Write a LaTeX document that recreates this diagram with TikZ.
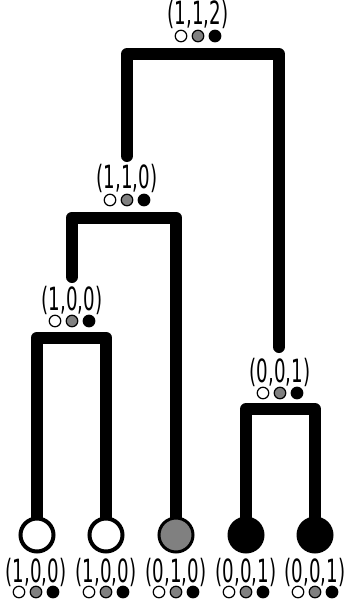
\documentclass[tikz,border=0pt]{standalone}
\usepackage{fontspec}
\newfontfamily\labelfont{DejaVu Sans}
\usetikzlibrary{backgrounds}
\definecolor{midgray}{HTML}{808080}
\newcommand\squeeze[1]{\scalebox{0.57}[1]{#1}}
\tikzset{
  edge/.style={line width=12pt, line cap=round, line join=round, draw=black},
  dot/.style={circle, draw=black, line width=1.2pt, minimum size=11.5pt, inner sep=0pt},
  count/.style={inner sep=0pt, font=\labelfont\fontsize{32}{32}\selectfont},
  leafnode/.style={circle, inner sep=0pt},
  dots/.pic={
    \node[dot, fill=white]   (-w) at (-17,0) {};
    \node[dot, fill=midgray] (-g) at (0,0) {};
    \node[dot, fill=black]   (-k) at (17,0) {};
  }
}
\begin{document}
\begin{tikzpicture}[x=1pt, y=-1pt]
  \useasboundingbox (0,0) rectangle (345,605);

  % leaves
  \node[leafnode, draw=black, line width=4pt, fill=white, minimum size=33pt] (l1) at (37,535) {};
  \node[leafnode, draw=black, line width=4pt, fill=white, minimum size=33pt] (l2) at (106,535) {};
  \node[leafnode, draw=black, line width=3pt, fill=midgray, minimum size=34pt] (l3) at (176,535) {};
  \node[leafnode, fill=black, minimum size=37pt] (l4) at (246,535) {};
  \node[leafnode, fill=black, minimum size=37pt] (l5) at (315,535) {};

  % leaf counts
  \node[count] (t1) at (36,572)  {\squeeze{(1,0,0)}};
  \node[count] (t2) at (106,572) {\squeeze{(1,0,0)}};
  \node[count] (t3) at (176,572) {\squeeze{(0,1,0)}};
  \node[count] (t4) at (246,572) {\squeeze{(0,0,1)}};
  \node[count] (t5) at (315,572) {\squeeze{(0,0,1)}};
  \pic (d1) at (36,592)  {dots};
  \pic (d2) at (106,592) {dots};
  \pic (d3) at (176,592) {dots};
  \pic (d4) at (246,592) {dots};
  \pic (d5) at (315,592) {dots};

  % internal nodes: bar midpoints, leg tips and counts
  \coordinate (b100)  at (72,337.5);
  \coordinate (b110)  at (124,217.5);
  \coordinate (b001)  at (280,409);
  \coordinate (broot) at (203,54);
  \coordinate (tip100) at (72,277);
  \coordinate (tip110) at (127,156);
  \coordinate (tip001) at (279,347);

  \node[count] (n100)  at (72,300)  {\squeeze{(1,0,0)}};
  \node[count] (n110)  at (127,178) {\squeeze{(1,1,0)}};
  \node[count] (n001)  at (280,372) {\squeeze{(0,0,1)}};
  \node[count] (nroot) at (198,14)  {\squeeze{(1,1,2)}};
  \pic (d100)  at (72,321)  {dots};
  \pic (d110)  at (127,200) {dots};
  \pic (d001)  at (280,393) {dots};
  \pic (droot) at (198,36)  {dots};

  % tree edges, behind the leaf circles
  \begin{pgfonlayer}{background}
    \draw[edge] (l1.center) |- (b100) -| (l2.center);
    \draw[edge] (tip100) |- (b110) -| (l3.center);
    \draw[edge] (l4.center) |- (b001) -| (l5.center);
    \draw[edge] (tip110) |- (broot) -| (tip001);
  \end{pgfonlayer}
\end{tikzpicture}
\end{document}
